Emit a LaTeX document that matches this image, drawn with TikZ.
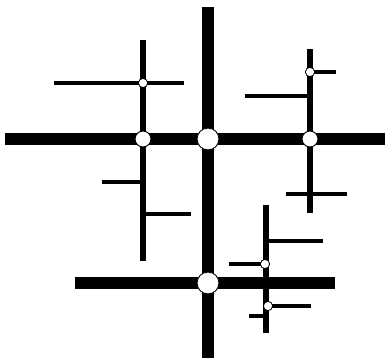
\documentclass[tikz,border=0pt]{standalone}
\usetikzlibrary{positioning,backgrounds}

\begin{document}
\begin{tikzpicture}[
  x=0.03cm, y=-0.03cm,
  hauptstrasse/.style={line width=11pt},
  querstrasse/.style={line width=9.4pt},
  nebenstrasse/.style={line width=4.7pt},
  gasse/.style={line width=3.4pt},
  grossplatz/.style={circle, draw, fill=white, line width=0.8pt, inner sep=0pt, minimum size=18.7pt},
  platz/.style={circle, draw, fill=white, line width=0.8pt, inner sep=0pt, minimum size=13.6pt},
  kleinplatz/.style={circle, draw, fill=white, line width=0.7pt, inner sep=0pt, minimum size=7.9pt}
]
\useasboundingbox (0,0) rectangle (385,364);
% Plaetze
\node[grossplatz] (g1) at (208,139) {};
\node[grossplatz] (g2) at (208,283) {};
\node[platz] (m1) at (143,139) {};
\node[platz] (m2) at (310,139) {};
\node[kleinplatz] (k1) at (143,83) {};
\node[kleinplatz] (k2) at (310,72) {};
\node[kleinplatz] (k3) at (265,264) {};
\node[kleinplatz] (k4) at (268,306) {};
% Strassenenden
\coordinate (nord) at (208,7);
\coordinate (sued) at (208,358);
\coordinate (west) at (5,139);
\coordinate (ost) at (385,139);
\coordinate (uw) at (75,283);
\coordinate (uo) at (335,283);
\coordinate (ln) at (143,40);
\coordinate (ls) at (143,261);
\coordinate (rn) at (310,49);
\coordinate (rs) at (310,213);
\coordinate (un) at (266,205);
\coordinate (us) at (266,333);
\begin{scope}[on background layer]
\draw[hauptstrasse] (nord) -- (g1.center) -- (g2.center) -- (sued);
\draw[hauptstrasse] (west) -- (m1.center) -- (g1.center) -- (m2.center) -- (ost);
\draw[querstrasse] (uw) -- (g2.center) -- (uo);
\draw[nebenstrasse] (ln) -- (k1.center) -- (m1.center) -- (ls);
\draw[nebenstrasse] (rn) -- (k2.center) -- (m2.center) -- (rs);
\draw[nebenstrasse] (un) -- (us);
% Gassen
\draw[gasse] (54,83) -- (k1.center) -- (184,83);
\draw[gasse] (102,182) -- (143,182);
\draw[gasse] (143,214) -- (191,214);
\draw[gasse] (k2.center) -- (336,72);
\draw[gasse] (245,96) -- (310,96);
\draw[gasse] (286,194) -- (347,194);
\draw[gasse] (266,241) -- (323,241);
\draw[gasse] (229,264) -- (k3.center);
\draw[gasse] (k4.center) -- (311,306);
\draw[gasse] (249,316) -- (266,316);
\end{scope}
\end{tikzpicture}
\end{document}
